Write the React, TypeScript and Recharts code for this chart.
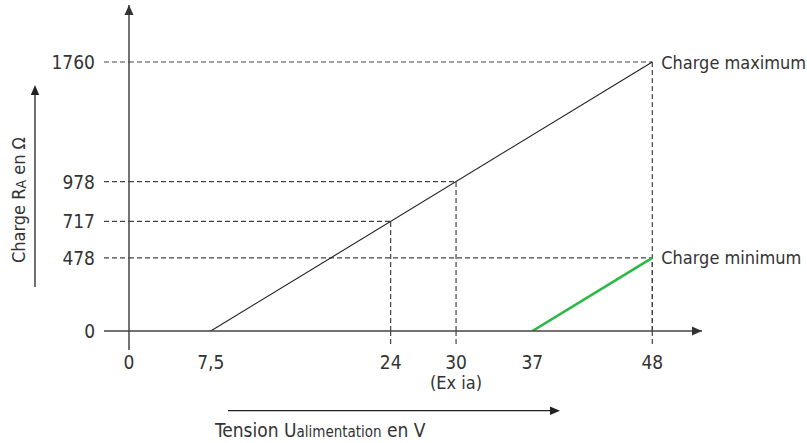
import React from 'react';
import { LineChart, Line, XAxis, YAxis, ReferenceLine, ReferenceDot, Label } from 'recharts';

// Supply voltage (V) ticks and load (Ω) ticks
const U_TICKS = [0, 7.5, 24, 30, 37, 48];
const R_TICKS = [0, 478, 717, 978, 1760];

// Maximum load line and minimum load line
const MAX_LOAD = [
  { u: 7.5, r: 0 },
  { u: 48, r: 1760 },
];
const MIN_LOAD = [
  { u: 37, r: 0 },
  { u: 48, r: 478 },
];

// Guide points (dashed projections onto the axes)
const GUIDES = [
  { u: 24, r: 717 },
  { u: 30, r: 978 },
  { u: 48, r: 1760 },
  { u: 48, r: 478 },
];
const GUIDE_U = [24, 30, 48];

const X_MAX = 52.56;
const Y_MAX = 2133;

const FONT = "'DejaVu Sans Condensed', 'DejaVu Sans', sans-serif";
const TXT = '#333';
const AXIS = '#444';
const DASH = '5 3';

const fmt = (v: number) => String(v).replace('.', ',');

const XTick = (props: any) => {
  const { x, y, payload } = props;
  const v = payload.value;
  return (
    <g>
      {v === 0 && <line x1={x} x2={x} y1={y} y2={y + 19} stroke={AXIS} strokeWidth={1.5} />}
      {GUIDE_U.includes(v) && (
        <line x1={x} x2={x} y1={y} y2={y + 15} stroke={AXIS} strokeWidth={1.2} strokeDasharray={DASH} />
      )}
      <text x={x} y={y + 31} textAnchor="middle" dominantBaseline="central" fill={TXT} fontSize={19} fontFamily={FONT}>
        {fmt(v)}
      </text>
      {v === 30 && (
        <text x={x} y={y + 51} textAnchor="middle" dominantBaseline="central" fill={TXT} fontSize={18} fontFamily={FONT}>
          (Ex ia)
        </text>
      )}
    </g>
  );
};

const YTick = (props: any) => {
  const { x, y, payload } = props;
  const v = payload.value;
  return (
    <g>
      <line
        x1={x - 25}
        x2={x}
        y1={y}
        y2={y}
        stroke={AXIS}
        strokeWidth={v === 0 ? 1.5 : 1.2}
        strokeDasharray={v === 0 ? undefined : DASH}
      />
      <text x={x - 34} y={y} textAnchor="end" dominantBaseline="central" fill={TXT} fontSize={19} fontFamily={FONT}>
        {fmt(v)}
      </text>
    </g>
  );
};

const XTitle = () => (
  <g>
    <line x1={228} x2={552} y1={410.7} y2={410.7} stroke="#222" strokeWidth={1.3} />
    <path d="M560,410.7 L550,406.5 L550,414.9 Z" fill="#222" />
    <text x={215} y={436.5} fill={TXT} fontFamily={FONT} fontSize={19}>
      Tension U<tspan fontSize={15}>alimentation</tspan> en V
    </text>
  </g>
);

const YTitle = () => (
  <g>
    <line x1={35} x2={35} y1={287} y2={93} stroke="#222" strokeWidth={1.3} />
    <path d="M35,85 L30.8,95 L39.2,95 Z" fill="#222" />
    <text
      x={18}
      y={200}
      transform="rotate(-90 18 200)"
      textAnchor="middle"
      dominantBaseline="central"
      fill={TXT}
      fontFamily={FONT}
      fontSize={18}
    >
      Charge R<tspan fontSize={14} dy={3}>A</tspan>
      <tspan dy={-3}> en Ω</tspan>
    </text>
  </g>
);

const ArrowRight = (props: any) => {
  const { cx, cy } = props;
  return <path d={`M${cx},${cy} L${cx - 10},${cy - 4.5} L${cx - 10},${cy + 4.5} Z`} fill="#333" />;
};
const ArrowUp = (props: any) => {
  const { cx, cy } = props;
  return <path d={`M${cx},${cy} L${cx - 4.5},${cy + 10} L${cx + 4.5},${cy + 10} Z`} fill="#333" />;
};
const endLabel = (text: string) => (props: any) => {
  const { cx, cy } = props;
  return (
    <text x={cx + 9} y={cy} dominantBaseline="central" fill={TXT} fontFamily={FONT} fontSize={18}>
      {text}
    </text>
  );
};

export default function App() {
  return (
    <div style={{ position: 'absolute', left: 0, top: 0, background: '#fff' }}>
      <LineChart width={807} height={443} margin={{ top: 5, right: 105, bottom: 72, left: 69 }}>
        <XAxis
          dataKey="u"
          type="number"
          domain={[0, X_MAX]}
          ticks={U_TICKS}
          interval={0}
          tickSize={0}
          tickMargin={0}
          tickLine={false}
          tick={<XTick />}
          height={40}
          axisLine={{ stroke: AXIS, strokeWidth: 1.5 }}
          allowDataOverflow
        >
          <Label content={<XTitle />} />
        </XAxis>
        <YAxis
          dataKey="r"
          type="number"
          domain={[0, Y_MAX]}
          ticks={R_TICKS}
          interval={0}
          tickSize={0}
          tickMargin={0}
          tickLine={false}
          tick={<YTick />}
          width={60}
          axisLine={{ stroke: AXIS, strokeWidth: 1.5 }}
          allowDataOverflow
        >
          <Label content={<YTitle />} />
        </YAxis>
        {GUIDES.map((g, i) => (
          <ReferenceLine
            key={`h${i}`}
            segment={[
              { x: 0, y: g.r },
              { x: g.u, y: g.r },
            ]}
            stroke={AXIS}
            strokeWidth={1.2}
            strokeDasharray={DASH}
            ifOverflow="visible"
          />
        ))}
        {GUIDES.map((g, i) => (
          <ReferenceLine
            key={`v${i}`}
            segment={[
              { x: g.u, y: 0 },
              { x: g.u, y: g.r },
            ]}
            stroke={AXIS}
            strokeWidth={1.2}
            strokeDasharray={DASH}
            ifOverflow="visible"
          />
        ))}
        <Line
          data={MAX_LOAD}
          dataKey="r"
          type="linear"
          stroke="#222"
          strokeWidth={1.1}
          dot={false}
          activeDot={false}
          isAnimationActive={false}
        />
        <Line
          data={MIN_LOAD}
          dataKey="r"
          type="linear"
          stroke="#2bb845"
          strokeWidth={2.6}
          dot={false}
          activeDot={false}
          isAnimationActive={false}
        />
        <ReferenceDot x={X_MAX} y={0} r={0} shape={<ArrowRight />} ifOverflow="visible" />
        <ReferenceDot x={0} y={Y_MAX} r={0} shape={<ArrowUp />} ifOverflow="visible" />
        <ReferenceDot x={48} y={1760} r={0} shape={endLabel('Charge maximum')} ifOverflow="visible" />
        <ReferenceDot x={48} y={478} r={0} shape={endLabel('Charge minimum')} ifOverflow="visible" />
      </LineChart>
    </div>
  );
}
